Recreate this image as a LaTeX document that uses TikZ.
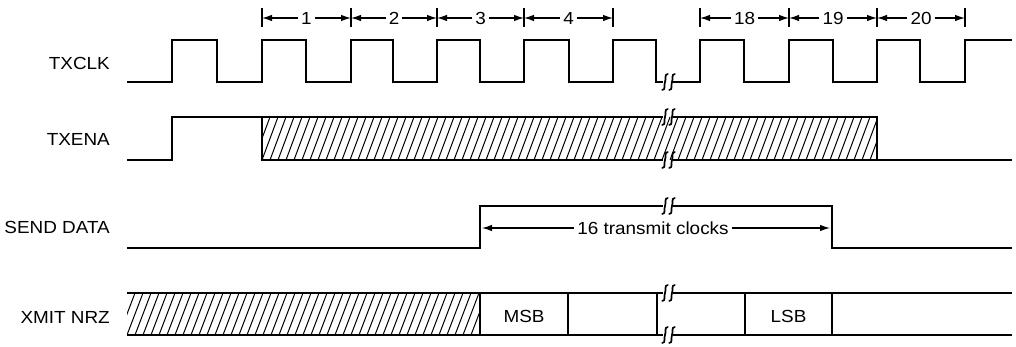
\documentclass[tikz,border=0pt]{standalone}
\usepackage{fontspec}
\setmainfont{Liberation Sans}[FakeStretch=1.08]
\usetikzlibrary{arrows.meta}
\begin{document}
\begin{tikzpicture}[x=1pt,y=-1pt,
  wave/.style={line width=1.7pt, line join=miter},
  hatch/.style={line width=1pt},
  tick/.style={line width=1.3pt},
  dim/.style={line width=1.2pt, -{Latex[length=10pt,width=6.5pt]}},
  sig/.style={font=\fontsize{17.5}{20}\selectfont, anchor=east, inner sep=0pt},
  num/.style={font=\fontsize{17.5}{20}\selectfont, inner sep=3pt},
  brk/.pic={\draw[line width=1.7pt, line cap=round] (2.8,-8) .. controls (-1,-8) and (1.2,-2) .. (0,0) .. controls (-1.2,2) and (1,8) .. (-2.8,8);}
]
\useasboundingbox (0,0) rectangle (1016,347);

% signal labels
\node[sig] (lclk) at (110,63) {TXCLK};
\node[sig] (lena) at (110,139) {TXENA};
\node[sig] (lsend) at (110,227) {SEND DATA};
\node[sig] (lnrz) at (110,317) {XMIT NRZ};

% ---- dimension arrows at top
\foreach \n/\x in {a/262,b/351,c/437,d/524,e/613,f/700,g/789,h/877,i/965}{
  \coordinate (t\n) at (\x,18);
  \draw[tick] (\x,8) -- (\x,27);
}
\foreach \l/\p/\q/\m in {1/a/b/306.5, 2/b/c/394, 3/c/d/480.5, 4/d/e/568.5, 18/f/g/744.5, 19/g/h/833, 20/h/i/921}{
  \node[num] (n\l) at (\m,18) {\l};
  \draw[dim] (n\l.west) -- (t\p);
  \draw[dim] (n\l.east) -- (t\q);
}

% ---- TXCLK
\draw[wave] (127,82) -- (172,82) -- (172,40) -- (217,40) -- (217,82) -- (262,82) -- (262,40) -- (306,40) -- (306,82)
  -- (351,82) -- (351,40) -- (393,40) -- (393,82) -- (437,82) -- (437,40) -- (480,40) -- (480,82)
  -- (524,82) -- (524,40) -- (569,40) -- (569,82) -- (613,82) -- (613,40) -- (656,40) -- (656,82) -- (663,82);
\draw[wave] (673,82) -- (700,82) -- (700,40) -- (744,40) -- (744,82) -- (789,82) -- (789,40) -- (833,40) -- (833,82)
  -- (877,82) -- (877,40) -- (920,40) -- (920,82) -- (965,82) -- (965,40) -- (1012,40);
\pic at (665,82) {brk};
\pic at (672,82) {brk};

% ---- TXENA
\begin{scope}
  \clip (262,117) rectangle (877,160);
  \foreach \x in {246,254,...,880}{ \draw[hatch] (\x,160) -- (\x+16,117); }
\end{scope}
\draw[wave] (127,160) -- (172,160) -- (172,117) -- (663,117);
\draw[wave] (673,117) -- (877,117) -- (877,160) -- (1012,160);
\draw[wave] (262,117) -- (262,160) -- (663,160);
\draw[wave] (673,160) -- (877,160);
\pic at (665,117) {brk};
\pic at (672,117) {brk};
\pic at (665,160) {brk};
\pic at (672,160) {brk};

% ---- SEND DATA
\draw[wave] (127,248) -- (480,248) -- (480,206) -- (663,206);
\draw[wave] (673,206) -- (832,206) -- (832,248) -- (1012,248);
\pic at (665,206) {brk};
\pic at (672,206) {brk};
\coordinate (sA) at (482,228);
\coordinate (sB) at (830,228);
\node[num] (l16) at (653,228) {16 transmit clocks};
\draw[dim] (l16.west) -- (sA);
\draw[dim] (l16.east) -- (sB);

% ---- XMIT NRZ
\begin{scope}
  \clip (127,293) rectangle (480,335);
  \foreach \x in {111,119,...,484}{ \draw[hatch] (\x,335) -- (\x+16,293); }
\end{scope}
\draw[wave] (127,293) -- (663,293);
\draw[wave] (127,335) -- (663,335);
\draw[wave] (673,293) -- (1012,293);
\draw[wave] (673,335) -- (1012,335);
\draw[wave] (480,293) -- (480,335);
\draw[wave] (568,293) -- (568,335);
\draw[wave] (657,293) -- (657,335);
\draw[wave] (745,293) -- (745,335);
\draw[wave] (832,293) -- (832,335);
\pic at (665,293) {brk};
\pic at (672,293) {brk};
\pic at (665,335) {brk};
\pic at (672,335) {brk};
\node[num] (msb) at (524,316) {MSB};
\node[num] (lsb) at (788.5,316) {LSB};
\end{tikzpicture}
\end{document}
